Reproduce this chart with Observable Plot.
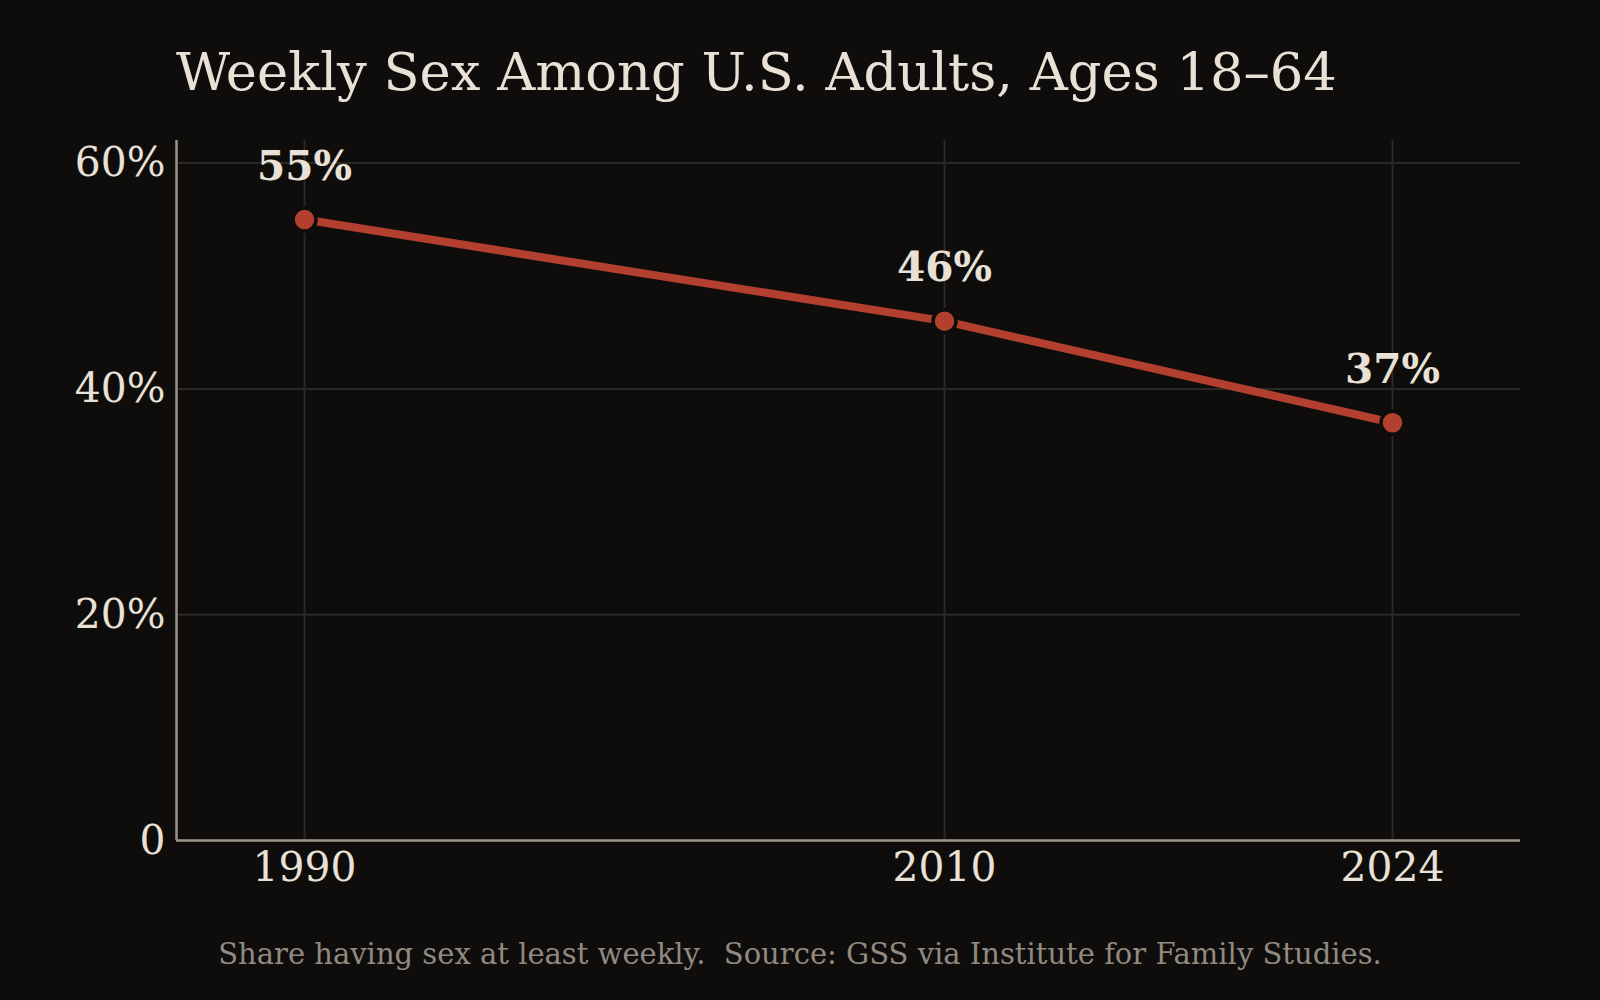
<!DOCTYPE html>
<html>
<head>
<meta charset="utf-8">
<script src="https://cdn.jsdelivr.net/npm/d3@7"></script>
<script src="https://cdn.jsdelivr.net/npm/@observablehq/plot@0.6"></script>
<style>
  html, body { margin: 0; padding: 0; background: #0e0d0c; }
  body { width: 1600px; height: 1000px; overflow: hidden; font-family: "DejaVu Serif", serif; }
  #title { height: 120px; box-sizing: border-box; padding-left: 176px; padding-top: 42px; color: #e9e1d6; font-size: 52.7px; line-height: 60px; white-space: nowrap; }
  #caption { text-align: center; color: #918a80; font-size: 29px; line-height: 34px; padding-top: 37px; width: 1600px; }
  svg { display: block; }
</style>
</head>
<body>
<div id="title">Weekly Sex Among U.S. Adults, Ages 18–64</div>
<div id="chart"></div>
<div id="caption">Share having sex at least weekly.&nbsp; Source: GSS via Institute for Family Studies.</div>
<script>
const years = [1990, 2010, 2024];
const shares = [55, 46, 37];
const xTicks = [1990, 2010, 2024];
const yTicks = [0, 20, 40, 60];

const data = years.map((y, i) => ({year: y, share: shares[i]}));

const chart = Plot.plot({
  width: 1600,
  height: 780,
  marginLeft: 176,
  marginRight: 80,
  marginTop: 20,
  marginBottom: 60,
  style: {background: "#0e0d0c", color: "#e9e1d6", fontFamily: "DejaVu Serif, serif"},
  x: {domain: [1986, 2028], label: null},
  y: {domain: [0, 62], label: null},
  marks: [
    Plot.gridX(xTicks, {stroke: "#2b2927", strokeOpacity: 1, strokeWidth: 2}),
    Plot.gridY(yTicks, {stroke: "#2b2927", strokeOpacity: 1, strokeWidth: 2}),
    Plot.axisX({ticks: xTicks, tickFormat: d => String(d), tickSize: 0, tickPadding: 12, fontSize: 40.8, fill: "#e9e1d6", label: null}),
    Plot.axisY({ticks: yTicks, tickFormat: d => d === 0 ? "0" : d + "%", tickSize: 0, tickPadding: 11, fontSize: 40.8, fill: "#e9e1d6", label: null}),
    Plot.ruleX([1986], {stroke: "#9b938a", strokeWidth: 2.5}),
    Plot.ruleY([0], {stroke: "#9b938a", strokeWidth: 2.5}),
    Plot.line(data, {x: "year", y: "share", stroke: "#b3402f", strokeWidth: 8}),
    Plot.dot(data, {x: "year", y: "share", r: 11.5, fill: "#b3402f", stroke: "#0e0d0c", strokeWidth: 3.5}),
    Plot.text(data, {x: "year", y: "share", text: d => d.share + "%", dy: -53, fontSize: 40.6, fontWeight: "bold", fill: "#e9e1d6"})
  ]
});
document.getElementById("chart").appendChild(chart);
</script>
</body>
</html>
